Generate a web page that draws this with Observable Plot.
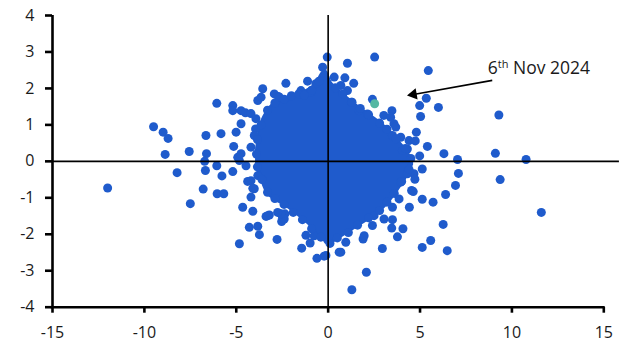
<!DOCTYPE html>
<html><head><meta charset="utf-8">
<script src="https://cdn.jsdelivr.net/npm/d3@7"></script>
<script src="https://cdn.jsdelivr.net/npm/@observablehq/plot@0.6"></script>
<style>body{margin:0;background:#fff}</style>
</head><body><div id="chart"></div>
<script>
const xTicks = [-15, -10, -5, 0, 5, 10, 15];
const yTicks = [-4, -3, -2, -1, 0, 1, 2, 3, 4];

// dense core of the cloud (where the dots merge into a solid mass)
const coreX      = [-3.95, -3.7, -3.35, -3.0, -2.5, -1.8, -1.2, -0.7, -0.35, -0.1, 0.25, 0.9, 1.6, 2.3, 2.9, 3.5, 4.0, 4.4, 4.65];
const coreTop    = [0.3, 1.05, 1.4, 1.6, 1.74, 1.86, 1.97, 2.15, 2.45, 2.5, 2.15, 1.85, 1.55, 1.3, 1.08, 0.8, 0.5, 0.25, 0.0];
const coreBottom = [-0.15, -0.5, -0.9, -1.05, -1.2, -1.45, -1.7, -1.95, -2.12, -2.28, -2.25, -2.05, -1.82, -1.6, -1.38, -1.05, -0.7, -0.38, -0.1];

// individual observations outside / at the edge of the core
const points = [
  [-12.0,-0.73],[-9.5,0.95],[-8.98,0.80],[-8.71,0.63],[-8.87,0.19],[-7.56,0.27],[-8.22,-0.31],[-7.5,-1.16],
  [-6.8,-0.76],[-6.65,0.71],[-6.62,0.21],[-6.72,0.0],[-6.68,-0.25],[-6.06,1.59],[-5.83,0.76],[-5.14,0.41],
  [-6.06,-0.12],[-5.78,-0.40],[-5.19,-0.28],[-6.04,-0.89],[-5.68,-0.89],
  [-5.19,1.53],[-5.19,1.39],[-4.74,1.39],[-4.5,1.33],[-4.2,1.31],[-3.93,1.17],[-4.74,1.03],[-3.95,0.89],
  [-5.01,0.80],[-4.02,0.71],[-4.2,0.39],[-4.92,0.11],[-4.83,0.02],[-4.74,0.21],[-4.47,-0.12],[-4.2,-0.53],
  [-4.02,-0.75],[-4.38,-0.55],[-4.10,-0.74],[-4.20,-0.98],[-3.83,-0.39],
  [-3.56,1.99],[-2.30,2.14],[-1.12,2.20],[-0.05,2.86],[-2.71,1.78],[-3.83,1.67],[-3.65,1.76],[-2.93,1.85],
  [-2.66,1.76],[-1.48,1.94],[-0.94,1.9],[-0.67,2.13],[-0.3,2.58],
  [1.05,2.69],[2.53,2.86],[0.91,2.29],[1.39,2.14],[2.41,1.70],[1.27,1.62],[0.33,2.31],[0.69,2.08],[1.05,1.94],
  [1.68,1.39],[2.14,1.30],[3.47,1.39],[3.03,1.26],[3.58,1.03],[3.50,0.71],[3.4,1.21],[3.68,0.94],[3.95,0.66],
  [4.4,0.57],[4.31,0.34],[4.04,0.3],
  [5.45,2.49],[5.34,1.73],[4.98,1.53],[6.0,1.48],[5.03,1.23],[9.29,1.27],[4.80,0.80],[4.74,0.56],[5.40,0.41],
  [6.30,0.21],[7.04,0.05],[9.10,0.22],[10.77,0.05],[4.98,0.15],[5.12,-0.21],[4.67,-0.34],[4.72,-0.49],
  [4.31,-0.34],[3.95,-0.57],[4.54,-0.80],[4.63,-0.83],[5.12,-1.04],[5.71,-1.12],[6.39,-0.91],[6.93,-0.66],
  [7.09,-0.33],[9.36,-0.50],[11.6,-1.40],[6.26,-1.73],[5.58,-2.17],[5.12,-2.36],[6.48,-2.45],[4.42,-1.26],
  [3.86,-1.03],[3.5,-1.26],[3.77,-2.07],[4.07,-1.85],[3.46,-1.83],[3.04,-1.58],[3.5,-1.6],[2.5,-1.49],[2.41,-1.76],
  [1.29,-3.52],[2.08,-3.04],[2.95,-2.39],[1.90,-2.13],[1.96,-2.04],[0.69,-2.49],[0.6,-2.49],[0.96,-2.22],
  [-0.12,-2.58],[-0.22,-2.60],[-0.61,-2.66],[-1.44,-2.38],[-1.21,-2.03],[-0.98,-2.24],[-0.76,-2.04],
  [-4.83,-2.26],[-2.78,-2.14],[-4.29,-1.81],[-3.83,-1.78],[-3.74,-2.01],[-4.65,-1.26],[-4.10,-1.37],[-3.38,-1.51],
  [-3.20,-1.47],[-2.53,-1.65],[-2.35,-1.44],[-2.48,-1.53],[-2.39,-1.58],[-2.57,-1.44],[-2.75,-1.40],[-3.29,-1.49],
  // dots along the rim of the dense core
  [-3.3,1.4],[-2.9,1.6],[-2.4,1.7],[-2.0,1.8],[-1.6,1.85],[-1.3,1.82],[-0.9,1.95],[-0.5,2.2],
  [0.4,2.02],[0.8,1.85],[1.3,1.62],[1.75,1.45],[2.2,1.28],[2.8,1.05],[3.2,0.88],[3.7,0.62],[4.2,0.35],[4.5,0.08],
  [4.4,-0.22],[4.0,-0.55],[3.6,-0.88],[3.2,-1.12],[2.8,-1.35],[2.2,-1.55],[1.6,-1.75],[1.1,-1.95],[0.5,-2.1],[0.1,-2.25],
  [-0.4,-2.08],[-0.9,-1.85],[-1.4,-1.6],[-1.9,-1.4],[-2.4,-1.18],[-2.9,-1.02],[-3.3,-0.85],[-3.6,-0.5],[-3.85,-0.15],
  [-3.9,0.2],[-3.85,0.6],[-3.65,1.0]
];

// highlighted observation: 6th Nov 2024
const highlight = [[2.53, 1.58]];
const labelText = ["6th Nov 2024"];
const labelPos = [[8.69, 2.55]];
const arrowFrom = [8.93, 2.22];
const arrowTo = [4.64, 1.835];

const blue = "#1f5bcc";
const green = "#55b8a2";

const core = coreX.map((x, i) => ({x, top: coreTop[i], bottom: coreBottom[i]}));

const plot = Plot.plot({
  width: 629,
  height: 354,
  marginLeft: 52,
  marginRight: 25.7,
  marginTop: 15,
  marginBottom: 47.3,
  style: {fontFamily: "'Open Sans', 'Noto Sans', sans-serif", fontSize: "16px", color: "#1a1a1a", background: "#fff"},
  x: {domain: [-15, 15]},
  y: {domain: [-4, 4]},
  marks: [
    Plot.areaY(core, {x: "x", y1: "bottom", y2: "top", fill: blue, curve: "catmull-rom"}),
    Plot.dot(points, {x: d => d[0], y: d => d[1], r: 4.5, fill: blue}),
    Plot.dot(highlight, {x: d => d[0], y: d => d[1], r: 4.5, fill: green}),
    Plot.ruleX([0], {y1: -4, y2: 4, stroke: "#000", strokeWidth: 1.6}),
    Plot.ruleY([0], {x1: -15, x2: 15.85, stroke: "#000", strokeWidth: 1.6}),
    Plot.ruleX([-15], {y1: -4, y2: 4, stroke: "#000", strokeWidth: 2.6}),
    Plot.ruleY([-4], {x1: -15, x2: 15, stroke: "#000", strokeWidth: 2.6, strokeLinecap: "square"}),
    Plot.axisX({ticks: xTicks, tickSize: 6, tickPadding: 13, strokeWidth: 2.6, tickFormat: d => String(d), label: null, stroke: "#000"}),
    Plot.axisY({ticks: yTicks, tickSize: 7, tickPadding: 11, strokeWidth: 2.6, tickFormat: d => String(d), label: null, stroke: "#000"}),
    Plot.link([{x1: arrowFrom[0], y1: arrowFrom[1], x2: arrowTo[0], y2: arrowTo[1]}], {x1: "x1", y1: "y1", x2: "x2", y2: "y2", stroke: "#000", strokeWidth: 1.6}),
    Plot.dot([arrowTo], {x: d => d[0], y: d => d[1], symbol: "triangle", r: 4.2, rotate: 260, fill: "#000", stroke: null}),
    Plot.text(labelText, {x: (d, i) => labelPos[i][0], y: (d, i) => labelPos[i][1], text: d => d, textAnchor: "start", fontSize: 17.5, fill: "#1a1a1a"})
  ]
});

// render "th" as a superscript
plot.querySelectorAll("text").forEach(t => {
  if (t.textContent === "6th Nov 2024") {
    t.textContent = "";
    const ns = "http://www.w3.org/2000/svg";
    const a = document.createElementNS(ns, "tspan"); a.textContent = "6";
    const b = document.createElementNS(ns, "tspan"); b.textContent = "th"; b.setAttribute("font-size", "11"); b.setAttribute("dy", "-6");
    const c = document.createElementNS(ns, "tspan"); c.textContent = " Nov 2024"; c.setAttribute("dy", "6");
    t.append(a, b, c);
  }
});

document.getElementById("chart").append(plot);
</script>
</body></html>
